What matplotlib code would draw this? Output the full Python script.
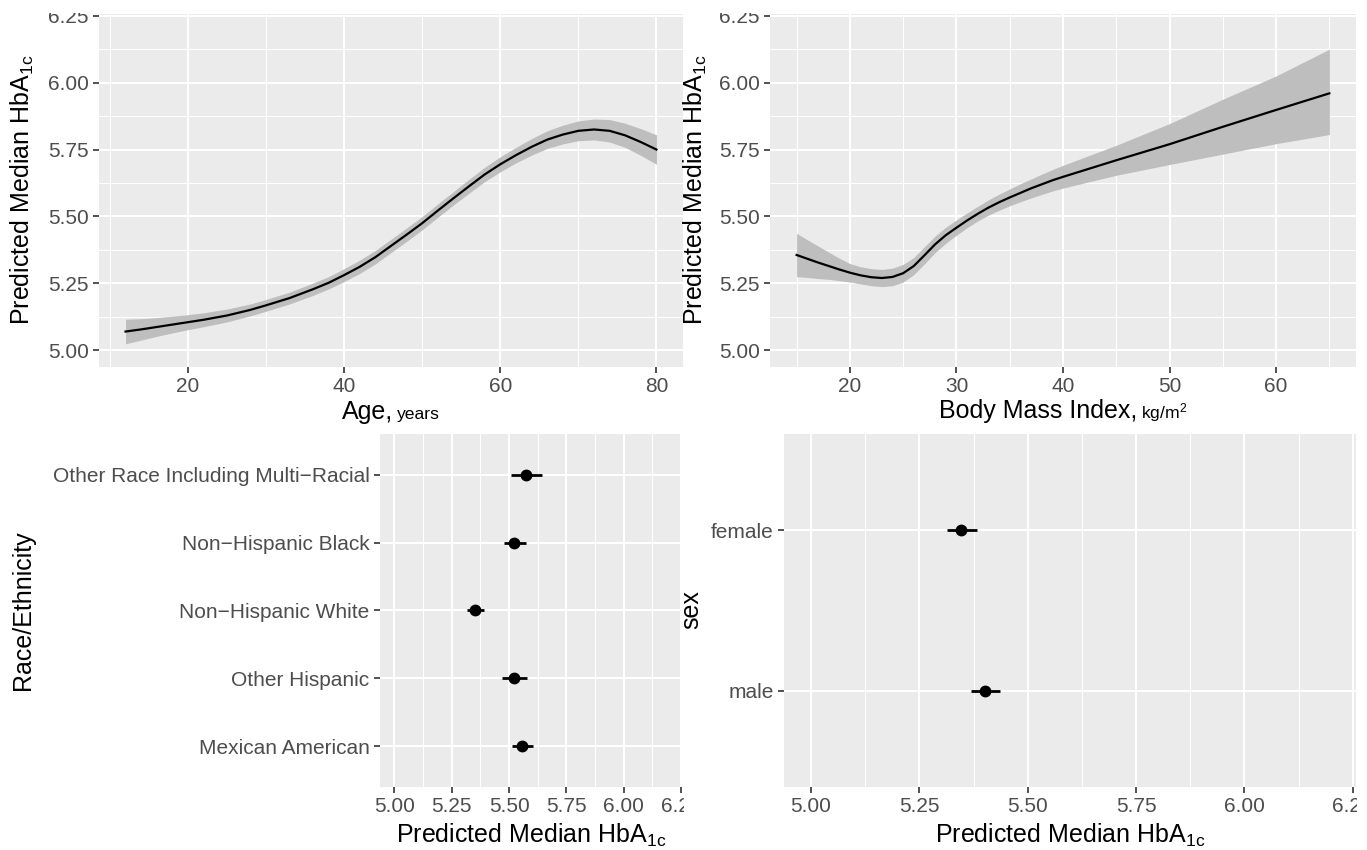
import matplotlib
matplotlib.use("Agg")
import matplotlib.pyplot as plt
from matplotlib.ticker import MultipleLocator, FixedLocator, FormatStrFormatter
from matplotlib.offsetbox import TextArea, HPacker, AnnotationBbox
from matplotlib.patches import Rectangle

plt.rcParams['font.family'] = ['Liberation Sans', 'DejaVu Sans']
plt.rcParams['mathtext.fontset'] = 'custom'
plt.rcParams['mathtext.rm'] = 'Liberation Sans'
plt.rcParams['mathtext.it'] = 'Liberation Sans:italic'
plt.rcParams['mathtext.bf'] = 'Liberation Sans:bold'

# ---- data ----
age = [12, 14, 16, 18, 20, 22, 25, 28, 30, 33, 36, 38, 40, 42, 44, 46, 48, 50, 52, 54, 56,
       58, 60, 62, 64, 66, 68, 70, 72, 74, 76, 78, 80]
age_fit = [5.070, 5.078, 5.087, 5.096, 5.105, 5.114, 5.130, 5.151, 5.168, 5.195, 5.228, 5.252,
           5.281, 5.312, 5.348, 5.390, 5.432, 5.475, 5.522, 5.568, 5.613, 5.657, 5.695, 5.729,
           5.760, 5.787, 5.806, 5.820, 5.825, 5.820, 5.803, 5.778, 5.750]
age_lo = [5.024, 5.038, 5.052, 5.065, 5.077, 5.088, 5.106, 5.129, 5.146, 5.173, 5.205, 5.229,
          5.257, 5.287, 5.323, 5.365, 5.407, 5.450, 5.497, 5.543, 5.587, 5.630, 5.667, 5.700,
          5.729, 5.754, 5.771, 5.783, 5.786, 5.778, 5.758, 5.728, 5.695]
age_hi = [5.116, 5.118, 5.122, 5.127, 5.133, 5.140, 5.154, 5.173, 5.190, 5.217, 5.251, 5.275,
          5.305, 5.337, 5.373, 5.415, 5.457, 5.500, 5.547, 5.593, 5.639, 5.684, 5.723, 5.758,
          5.791, 5.820, 5.841, 5.857, 5.864, 5.862, 5.848, 5.828, 5.805]

bmi = [15, 16, 17, 18, 19, 20, 21, 22, 23, 24, 25, 26, 27, 28, 29, 30, 31, 32, 33, 34, 35,
       36, 37, 38, 39, 40, 45, 50, 55, 60, 65]
bmi_fit = [5.356, 5.342, 5.328, 5.315, 5.302, 5.290, 5.280, 5.273, 5.270, 5.274, 5.288, 5.315,
           5.355, 5.396, 5.430, 5.458, 5.485, 5.510, 5.533, 5.553, 5.571, 5.588, 5.605, 5.620,
           5.635, 5.648, 5.710, 5.770, 5.835, 5.898, 5.960]
bmi_lo = [5.275, 5.272, 5.268, 5.265, 5.260, 5.255, 5.248, 5.241, 5.238, 5.241, 5.255, 5.283,
          5.323, 5.365, 5.400, 5.430, 5.458, 5.483, 5.505, 5.523, 5.540, 5.555, 5.569, 5.582,
          5.595, 5.606, 5.654, 5.694, 5.733, 5.772, 5.806]
bmi_hi = [5.437, 5.413, 5.390, 5.367, 5.344, 5.324, 5.312, 5.305, 5.302, 5.307, 5.321, 5.347,
          5.387, 5.427, 5.460, 5.487, 5.513, 5.538, 5.562, 5.583, 5.603, 5.622, 5.640, 5.658,
          5.675, 5.691, 5.766, 5.847, 5.938, 6.025, 6.125]

race = ["Mexican American", "Other Hispanic", "Non\u2212Hispanic White",
        "Non\u2212Hispanic Black", "Other Race Including Multi\u2212Racial"]
race_fit = [5.555, 5.522, 5.351, 5.522, 5.573]
race_lo = [5.515, 5.471, 5.316, 5.476, 5.508]
race_hi = [5.606, 5.577, 5.389, 5.573, 5.645]

sex = ["male", "female"]
sex_fit = [5.401, 5.346]
sex_lo = [5.369, 5.313]
sex_hi = [5.437, 5.382]

hba_ticks = [5.00, 5.25, 5.50, 5.75, 6.00, 6.25]

W, H = 1367, 850
TICK_SIZE = 15
TITLE_SIZE = 18
HBA = r"Predicted Median HbA$_{\mathrm{1c}}$"

fig = plt.figure(figsize=(W / 100, H / 100), dpi=100)


def px_axes(left, top, right, bottom):
    return fig.add_axes([left / W, 1 - bottom / H, (right - left) / W, (bottom - top) / H])


def style(ax):
    ax.set_facecolor("#EBEBEB")
    for s in ax.spines.values():
        s.set_visible(False)
    ax.set_axisbelow(True)
    ax.tick_params(which="major", length=4.1, width=1.2, color="#333333", pad=3.4,
                   labelsize=TICK_SIZE, labelcolor="#4D4D4D")
    ax.tick_params(which="minor", length=0)
    ax.grid(which="major", color="white", linewidth=1.45)


def curve(ax, x, fit, lo, hi):
    ax.fill_between(x, lo, hi, color="#BEBEBE", linewidth=0, zorder=2)
    ax.plot(x, fit, color="black", linewidth=1.6, zorder=3)
    ax.set_ylim(4.9375, 6.2565)
    ax.yaxis.set_major_locator(FixedLocator(hba_ticks))
    ax.yaxis.set_major_formatter(FormatStrFormatter("%.2f"))
    ax.yaxis.set_minor_locator(MultipleLocator(0.125))
    ax.grid(which="minor", color="white", linewidth=0.72)


def dots(ax, labels, fit, lo, hi):
    pos = list(range(len(labels)))
    ax.hlines(pos, lo, hi, color="black", linewidth=2.0, zorder=3)
    ax.plot(fit, pos, "o", color="black", markersize=7.5, zorder=4)
    ax.set_yticks(pos)
    ax.set_yticklabels(labels)
    ax.set_ylim(-0.6, len(labels) - 0.4)
    ax.xaxis.set_major_locator(FixedLocator(hba_ticks))
    ax.xaxis.set_major_formatter(FormatStrFormatter("%.2f"))
    ax.xaxis.set_minor_locator(MultipleLocator(0.125))
    ax.grid(which="minor", axis="x", color="white", linewidth=0.72)


def unit_label(parts, xc, ybottom):
    boxes = [TextArea(t, textprops=dict(size=s, color="black")) for t, s in parts]
    pack = HPacker(children=boxes, align="baseline", pad=0, sep=3)
    ab = AnnotationBbox(pack, (xc / W, 1 - ybottom / H), xycoords="figure fraction",
                        box_alignment=(0.5, 0.0), frameon=False, pad=0)
    fig.add_artist(ab)


# top left: age
ax1 = px_axes(99, 14, 683, 367)
style(ax1)
curve(ax1, age, age_fit, age_lo, age_hi)
ax1.set_xlim(8.6, 83.4)
ax1.xaxis.set_major_locator(FixedLocator([20, 40, 60, 80]))
ax1.xaxis.set_minor_locator(MultipleLocator(10))
fig.text(22.5 / W, 1 - 190 / H, HBA, rotation=90, ha="center", va="center", size=TITLE_SIZE)
unit_label([("Age,", TITLE_SIZE), ("years", TITLE_SIZE * 0.7)], 391, 424)

# top right: BMI
ax2 = px_axes(770, 14, 1356, 367)
style(ax2)
curve(ax2, bmi, bmi_fit, bmi_lo, bmi_hi)
ax2.set_xlim(12.5, 67.5)
ax2.xaxis.set_major_locator(FixedLocator([20, 30, 40, 50, 60]))
ax2.xaxis.set_minor_locator(MultipleLocator(5))
fig.text(695 / W, 1 - 190 / H, HBA, rotation=90, ha="center", va="center", size=TITLE_SIZE)
unit_label([("Body Mass Index,", TITLE_SIZE), (r"kg/m$^{2}$", TITLE_SIZE * 0.7)], 1063, 424)

# bottom left: race/ethnicity
ax3 = px_axes(380, 434, 682, 787)
style(ax3)
dots(ax3, race, race_fit, race_lo, race_hi)
ax3.set_xlim(4.9375, 6.254)
fig.text(23 / W, 1 - 610 / H, "Race/Ethnicity", rotation=90, ha="center", va="center", size=TITLE_SIZE)
fig.text(531 / W, 1 - 843 / H, HBA, ha="center", va="baseline", size=TITLE_SIZE)

# bottom right: sex
ax4 = px_axes(784, 434, 1356, 787)
style(ax4)
dots(ax4, sex, sex_fit, sex_lo, sex_hi)
ax4.set_xlim(4.9375, 6.2575)
fig.text(691 / W, 1 - 610 / H, "sex", rotation=90, ha="center", va="center", size=TITLE_SIZE)
fig.text(1070 / W, 1 - 843 / H, HBA, ha="center", va="baseline", size=TITLE_SIZE)

# the reference panels are cropped at these edges
for x0, y0, x1, y1 in [(0, 0, W, 12.5), (683.5, 789, 770, 816), (1357, 789, W, 816)]:
    fig.add_artist(Rectangle((x0 / W, 1 - y1 / H), (x1 - x0) / W, (y1 - y0) / H,
                             transform=fig.transFigure, facecolor="white",
                             edgecolor="none", zorder=100))

fig.savefig("out.png", dpi=100, facecolor="white")
